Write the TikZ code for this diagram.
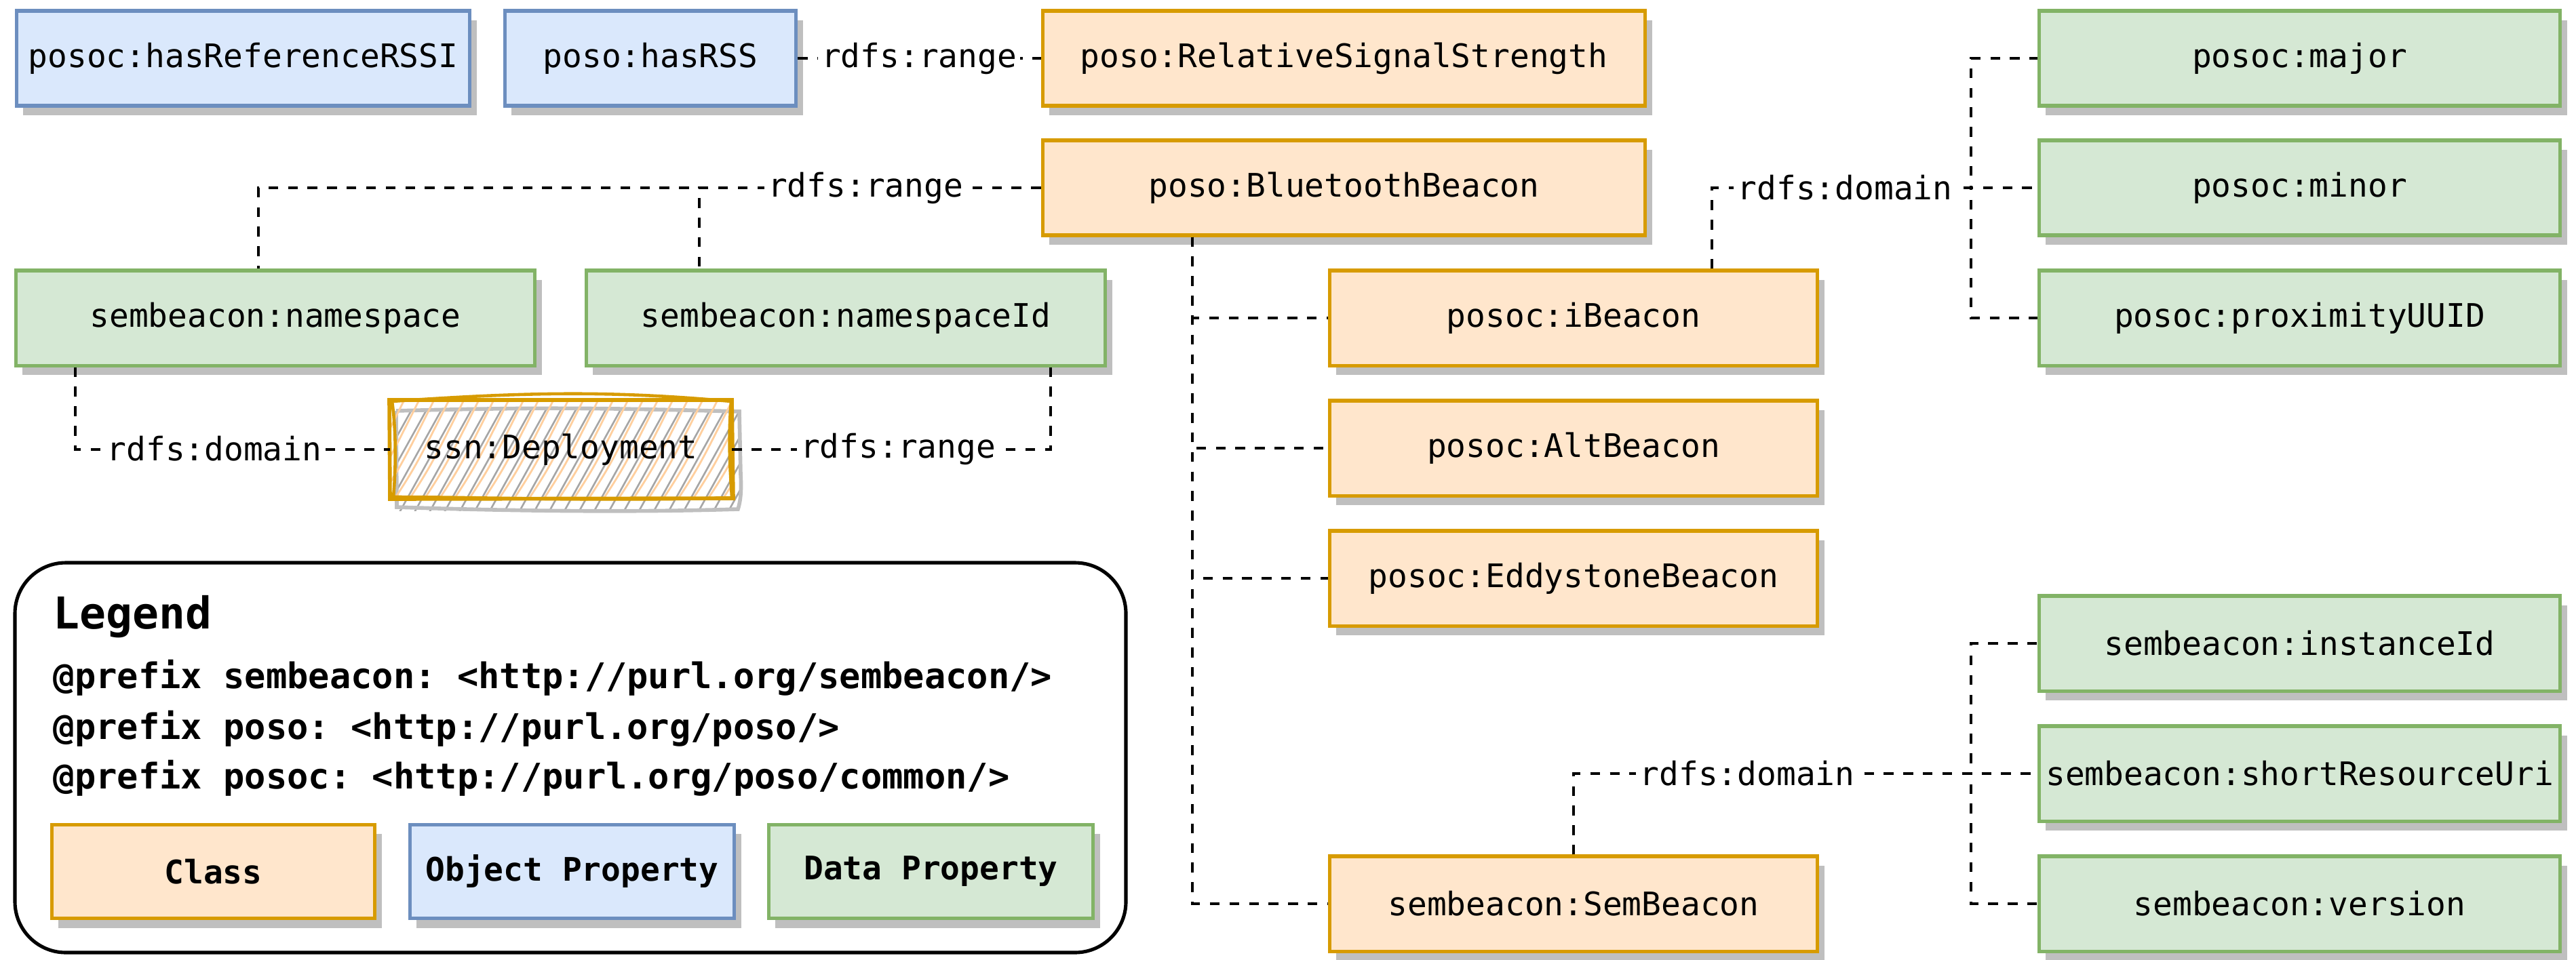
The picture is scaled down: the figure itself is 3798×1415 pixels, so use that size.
\documentclass[tikz,border=0pt]{standalone}
\usepackage{fontspec}
\setmonofont{DejaVu Sans Mono}
\usetikzlibrary{shadows,calc}

\definecolor{clsfill}{HTML}{FFE6CC}
\definecolor{clsline}{HTML}{D79B00}
\definecolor{objfill}{HTML}{DAE8FC}
\definecolor{objline}{HTML}{6C8EBF}
\definecolor{datfill}{HTML}{D5E8D4}
\definecolor{datline}{HTML}{82B366}
\definecolor{shadowgrey}{HTML}{BFBFBF}
\definecolor{hatchgrey}{HTML}{A6A6A6}
\definecolor{hatchorange}{HTML}{FFCF9E}

\newcommand{\nodefont}{\ttfamily\fontsize{13.6}{16}\selectfont}

\tikzset{
  box/.style={rectangle, line width=1.45pt, inner sep=0pt, minimum height=1.40cm,
    font=\nodefont, text=black,
    drop shadow={shadow xshift=0.1cm, shadow yshift=-0.14cm, fill=shadowgrey, opacity=1}},
  cls/.style={box, fill=clsfill, draw=clsline},
  obj/.style={box, fill=objfill, draw=objline},
  dat/.style={box, fill=datfill, draw=datline},
  rel/.style={line width=1.35pt, dash pattern=on 4.1pt off 4.1pt},
  lbl/.style={fill=white, inner sep=1.5pt, font=\nodefont, text=black},
}

\begin{document}
\begin{tikzpicture}[x=0.01cm, y=-0.01cm]
\useasboundingbox (0,0) rectangle (3798,1415);

% ---- object properties
\node[obj, minimum width=6.68cm] (refrssi) at (358.5,86) {posoc:hasReferenceRSSI};
\node[obj, minimum width=4.29cm] (hasrss) at (959,86) {poso:hasRSS};

% ---- classes
\node[cls, minimum width=8.88cm] (rss) at (1981.5,86) {poso:RelativeSignalStrength};
\node[cls, minimum width=8.88cm] (bb) at (1981.5,277) {poso:BluetoothBeacon};
\node[cls, minimum width=7.19cm] (ibc) at (2320,469) {posoc:iBeacon};
\node[cls, minimum width=7.19cm] (alt) at (2320,661) {posoc:AltBeacon};
\node[cls, minimum width=7.19cm] (eddy) at (2320,853) {posoc:EddystoneBeacon};
\node[cls, minimum width=7.19cm] (sbc) at (2320,1333) {sembeacon:SemBeacon};

% ---- data properties
\node[dat, minimum width=7.68cm] (major) at (3390.5,86) {posoc:major};
\node[dat, minimum width=7.68cm] (minor) at (3390.5,277) {posoc:minor};
\node[dat, minimum width=7.68cm] (prox) at (3390.5,469) {posoc:proximityUUID};
\node[dat, minimum width=7.65cm] (ns) at (406,469) {sembeacon:namespace};
\node[dat, minimum width=7.65cm] (nsid) at (1247,469) {sembeacon:namespaceId};
\node[dat, minimum width=7.68cm] (inst) at (3390.5,949) {sembeacon:instanceId};
\node[dat, minimum width=7.68cm] (sru) at (3390.5,1141) {sembeacon:shortResourceUri};
\node[dat, minimum width=7.68cm] (ver) at (3390.5,1333) {sembeacon:version};

% ---- sketched, hatched class ssn:Deployment
\begin{scope}
  \clip (584,604) rectangle (1092,753);
  \foreach \i in {0,...,27} \draw[hatchgrey, line width=0.75pt] ({515+\i*22},770) -- ++(100,-180);
\end{scope}
\draw[shadowgrey, line width=1.6pt] (584,606) .. controls (800,600) and (900,602) .. (1090,607)
  -- (1092,700) .. controls (1094,730) and (1090,745) .. (1088,751)
  .. controls (900,757) and (700,752) .. (585,748) -- (584,606);
\begin{scope}
  \clip (574,590) rectangle (1080,737);
  \foreach \i in {0,...,27} \draw[hatchorange, line width=0.8pt] ({505+\i*22},752) .. controls ({546+\i*22},690) .. ++(98,-176);
\end{scope}
\draw[clsline, line width=1.6pt] (574,590) -- (1079,590) -- (1081,735) -- (575,736) -- cycle;
\draw[clsline, line width=1.3pt] (578,592) .. controls (780,578) and (900,576) .. (1078,592)
  .. controls (1073,650) and (1077,700) .. (1079,734)
  .. controls (900,740) and (700,733) .. (580,733)
  .. controls (583,700) and (585,640) .. (578,592);
\node[font=\nodefont, text=black, inner sep=0pt, minimum width=5.02cm, minimum height=1.43cm] (dep) at (827,663) {ssn:Deployment};

% ---- connector x positions
\coordinate (nsa) at (111,0);
\coordinate (nsb) at (381,0);
\coordinate (nsc) at (1031,0);
\coordinate (nsd) at (1549,0);
\coordinate (sx) at (1758,0);
\coordinate (ia) at (2524,0);
\coordinate (fan) at (2906,0);
\coordinate (sa) at (2320,0);

% ---- connectors
\draw[rel] (hasrss.east) -- (rss.west);
\draw[rel] (bb.west) -- (nsb |- bb.west) -- (nsb |- ns.north);
\draw[rel] (bb.west) -- (nsc |- bb.west) -- (nsc |- nsid.north);
\draw[rel] (nsa |- ns.south) -- (nsa |- dep.west) -- (dep.west);
\draw[rel] (nsd |- nsid.south) -- (nsd |- dep.east) -- (dep.east);
\foreach \n in {ibc,alt,eddy,sbc}
  \draw[rel] (sx |- bb.south) -- (sx |- \n.west) -- (\n.west);
\foreach \n in {major,minor,prox}
  \draw[rel] (ia |- ibc.north) -- (ia |- minor.west) -- (fan |- minor.west) -- (fan |- \n.west) -- (\n.west);
\foreach \n in {inst,sru,ver}
  \draw[rel] (sa |- sbc.north) -- (sa |- sru.west) -- (fan |- sru.west) -- (fan |- \n.west) -- (\n.west);

% ---- connector labels
\node[lbl] (l1) at (1355,86) {rdfs:range};
\node[lbl] (l2) at (1276,277) {rdfs:range};
\node[lbl] (l3) at (316,662) {rdfs:domain};
\node[lbl] (l4) at (1324,662) {rdfs:range};
\node[lbl] (l5) at (2720,277) {rdfs:domain};
\node[lbl] (l6) at (2576,1141) {rdfs:domain};

% ---- legend
\draw[line width=1.45pt, rounded corners=0.75cm] (22,830) rectangle (1660,1405);
\node[anchor=base west, inner sep=0pt, font=\ttfamily\bfseries\fontsize{18.4}{22}\selectfont] (lgtitle) at (78,927) {Legend};
\node[anchor=base west, inner sep=0pt, font=\ttfamily\bfseries\fontsize{14.8}{18}\selectfont] (lgp1) at (78,1015) {@prefix sembeacon: <http://purl.org/sembeacon/>};
\node[anchor=base west, inner sep=0pt, font=\ttfamily\bfseries\fontsize{14.8}{18}\selectfont] (lgp2) at (78,1090) {@prefix poso: <http://purl.org/poso/>};
\node[anchor=base west, inner sep=0pt, font=\ttfamily\bfseries\fontsize{14.8}{18}\selectfont] (lgp3) at (78,1163) {@prefix posoc: <http://purl.org/poso/common/>};
\node[cls, minimum width=4.76cm, minimum height=1.38cm, font=\nodefont\bfseries] (lgcls) at (314.5,1285.5) {Class};
\node[obj, minimum width=4.78cm, minimum height=1.38cm, font=\nodefont\bfseries] (lgobj) at (843.5,1285.5) {Object Property};
\node[dat, minimum width=4.78cm, minimum height=1.38cm, font=\nodefont\bfseries] (lgdat) at (1372.5,1285.5) {Data Property};
\end{tikzpicture}
\end{document}
